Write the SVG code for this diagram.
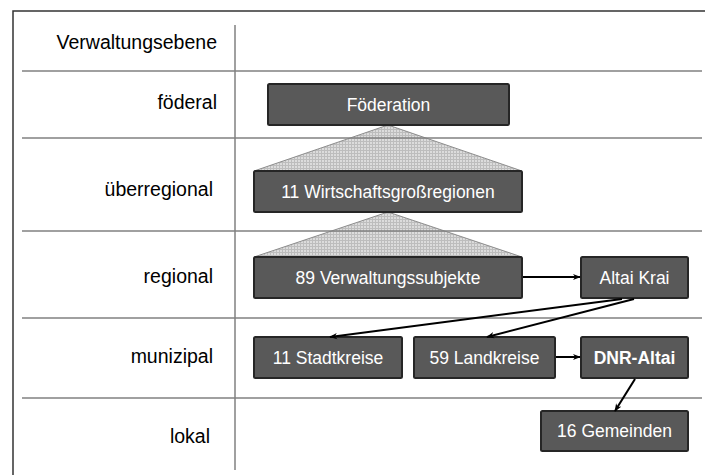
<svg xmlns="http://www.w3.org/2000/svg" width="705" height="475" viewBox="0 0 705 475">
<style>
.lbl{font-family:"Liberation Sans",Arial,sans-serif;font-size:19.5px;fill:#000;text-anchor:end}
.box rect{fill:#595959;stroke:#262626;stroke-width:2}
.box text{font-family:"Liberation Sans",Arial,sans-serif;font-size:17.5px;fill:#fff;text-anchor:middle}
.sep{stroke:#808080;stroke-width:1.5}
.tri{fill:url(#hatch);stroke:#8c8c8c;stroke-width:1}
.con{stroke:#000;stroke-width:2;fill:none;marker-end:url(#arr)}
</style>
<defs>
<pattern id="hatch" width="3" height="3" patternUnits="userSpaceOnUse">
<rect width="3" height="3" fill="#dcdcdc"/>
<path d="M0 0.5H3M0.5 0V3" stroke="#bdbdbd" stroke-width="1"/>
</pattern>
<marker id="arr" viewBox="0 0 10 10" refX="9" refY="5" markerWidth="4" markerHeight="4" orient="auto">
<path d="M0 1L10 5L0 9L3 5Z" fill="#000"/>
</marker>
</defs>
<rect width="705" height="475" fill="#fff"/>
<g id="frame">
<path d="M13 475V11H705" fill="none" stroke="#333" stroke-width="1.5"/>
</g>
<g id="triangles">
<polygon class="tri" points="388,125 254,171 522,171"/>
<polygon class="tri" points="388,212 254,257 522,257"/>
</g>
<g id="grid">
<line class="sep" x1="22" y1="71" x2="702" y2="71"/>
<line class="sep" x1="22" y1="138" x2="702" y2="138"/>
<line class="sep" x1="22" y1="231" x2="702" y2="231"/>
<line class="sep" x1="22" y1="318" x2="702" y2="318"/>
<line class="sep" x1="22" y1="398" x2="702" y2="398"/>
<line class="sep" x1="235" y1="25" x2="235" y2="470"/>
</g>
<g id="labels">
<text class="lbl" x="217" y="49">Verwaltungsebene</text>
<text class="lbl" x="217" y="109">föderal</text>
<text class="lbl" x="213" y="196">überregional</text>
<text class="lbl" x="213" y="283">regional</text>
<text class="lbl" x="213" y="363">munizipal</text>
<text class="lbl" x="210" y="443">lokal</text>
</g>
<g id="foederation" class="box"><rect x="268" y="84" width="241" height="41" rx="1.5"/><text x="388.5" y="111">Föderation</text></g>
<g id="wirtschaftsgrossregionen" class="box"><rect x="254" y="171" width="268" height="41" rx="1.5"/><text x="388" y="198">11 Wirtschaftsgroßregionen</text></g>
<g id="verwaltungssubjekte" class="box"><rect x="254" y="257" width="268" height="41" rx="1.5"/><text x="388" y="284">89 Verwaltungssubjekte</text></g>
<g id="altai-krai" class="box"><rect x="581" y="257" width="107" height="41" rx="1.5"/><text x="634.5" y="284">Altai Krai</text></g>
<g id="stadtkreise" class="box"><rect x="254" y="337" width="148" height="41" rx="1.5"/><text x="328" y="364">11 Stadtkreise</text></g>
<g id="landkreise" class="box"><rect x="414" y="337" width="141" height="41" rx="1.5"/><text x="484.5" y="364">59 Landkreise</text></g>
<g id="dnr-altai" class="box"><rect x="581" y="337" width="107" height="41" rx="1.5"/><text x="634.5" y="364" font-weight="bold">DNR-Altai</text></g>
<g id="gemeinden" class="box"><rect x="541" y="411" width="147" height="40" rx="1.5"/><text x="614.5" y="437">16 Gemeinden</text></g>
<g id="connectors">
<line class="con" x1="523" y1="277" x2="580" y2="277"/>
<line class="con" x1="622" y1="299" x2="330" y2="337"/>
<line class="con" x1="634" y1="299" x2="487" y2="337"/>
<line class="con" x1="556" y1="357" x2="580" y2="357"/>
<line class="con" x1="635" y1="379" x2="615" y2="411"/>
</g>
</svg>
